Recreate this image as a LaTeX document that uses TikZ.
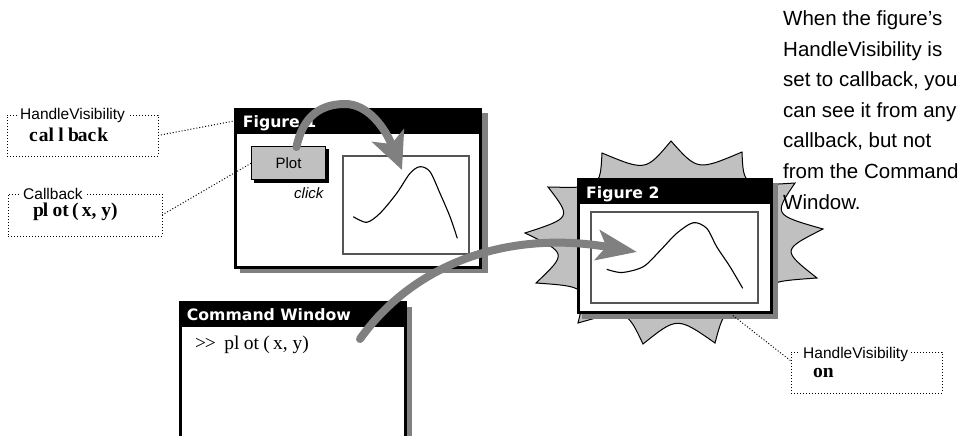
\documentclass[tikz,border=0pt]{standalone}
\usepackage{fontspec}
\setmainfont{Liberation Sans}
\newfontfamily\titlefont{DejaVu Sans}
\newfontfamily\codefont{Liberation Serif}
\usetikzlibrary{arrows.meta,calc}
\definecolor{shadegray}{RGB}{128,128,128}
\definecolor{burstgray}{RGB}{192,192,192}
\definecolor{framegray}{RGB}{85,85,85}
\newcommand\gridch[1]{\makebox[0.5em][l]{#1}}
\tikzset{
  wframe/.style={draw=black, fill=white, line width=3pt, inner sep=0pt, outer sep=0pt, anchor=north west},
  wtitle/.style={fill=black, inner sep=0pt, outer sep=0pt, anchor=north west},
  wtitletext/.style={text=white, font=\titlefont\bfseries\fontsize{15.7}{18}\selectfont, inner sep=0pt, anchor=base west},
  plotarea/.style={draw=framegray, line width=1.2pt, fill=white, inner sep=0pt, outer sep=0pt, anchor=north west},
  curve/.style={line width=1.1pt},
  calloutbox/.style={draw=black, line width=1pt, dash pattern=on 1pt off 2pt, inner sep=0pt, outer sep=0pt, anchor=north west},
  dotline/.style={line width=1pt, dash pattern=on 1pt off 2pt},
  boxlabel/.style={fill=white, inner xsep=3pt, inner ysep=1pt, anchor=base west, font=\fontsize{15.5}{18}\selectfont},
  boxcode/.style={inner sep=0pt, anchor=base west, font=\codefont\bfseries\fontsize{19.5}{20}\selectfont},
  bigarrow/.style={draw=shadegray, line width=8pt, line cap=round},
  burst/.style={fill=burstgray, draw=black, line width=1pt},
}
\begin{document}
\begin{tikzpicture}[x=1pt,y=-1pt]
\useasboundingbox (0,0) rectangle (959,436);
\clip (0,0) rectangle (959,436);

% starburst
\coordinate (C) at (672,240);
\coordinate (s1) at (671,141);
\coordinate (s2) at (742,152);
\coordinate (s3) at (795,183);
\coordinate (s4) at (823,229);
\coordinate (s5) at (817,278);
\coordinate (s6) at (772,315);
\coordinate (s7) at (715,343);
\coordinate (s8) at (643,344);
\coordinate (s9) at (578,323);
\coordinate (s10) at (536,283);
\coordinate (s11) at (525,233);
\coordinate (s12) at (548,187);
\coordinate (s13) at (602,153);
\draw[burst] (s1)
  .. controls ($(s1)!0.5!(s2)!0.26!(C)$) .. (s2)
  .. controls ($(s2)!0.5!(s3)!0.26!(C)$) .. (s3)
  .. controls ($(s3)!0.5!(s4)!0.26!(C)$) .. (s4)
  .. controls ($(s4)!0.5!(s5)!0.26!(C)$) .. (s5)
  .. controls ($(s5)!0.5!(s6)!0.26!(C)$) .. (s6)
  .. controls ($(s6)!0.5!(s7)!0.26!(C)$) .. (s7)
  .. controls ($(s7)!0.5!(s8)!0.26!(C)$) .. (s8)
  .. controls ($(s8)!0.5!(s9)!0.26!(C)$) .. (s9)
  .. controls ($(s9)!0.5!(s10)!0.26!(C)$) .. (s10)
  .. controls ($(s10)!0.5!(s11)!0.26!(C)$) .. (s11)
  .. controls ($(s11)!0.5!(s12)!0.26!(C)$) .. (s12)
  .. controls ($(s12)!0.5!(s13)!0.26!(C)$) .. (s13)
  .. controls ($(s13)!0.5!(s1)!0.26!(C)$) .. (s1) -- cycle;

% Figure 2
\fill[shadegray] (582,183) rectangle (778,319);
\node[wframe, minimum width=193, minimum height=133] (f2) at (578.5,179.5) {};
\node[wtitle, minimum width=196, minimum height=26] (t2) at (577,178) {};
\node[wtitletext] (t2text) at (586,198) {Figure 2};
\node[plotarea, minimum width=167, minimum height=91] (p2) at (591,212) {};
\draw[curve] plot[smooth] coordinates {(606.7,269.3) (622,272.5) (643.3,266.7) (660,250.7) (676.7,233.3) (693.3,222.7) (706.7,228.3) (716.7,246.7) (730,266.7) (742.7,288.3)};

% Figure 1
\fill[shadegray] (240,113) rectangle (488,273);
\node[wframe, minimum width=245, minimum height=158] (f1) at (235.5,109.5) {};
\node[wtitle, minimum width=248, minimum height=26] (t1) at (234,108) {};
\node[wtitletext] (t1text) at (242.7,128) {Figure 1};
\fill (254,149) rectangle (329,183);
\node[fill=burstgray, draw=black, line width=1pt, inner sep=0pt, outer sep=0pt, minimum width=74, minimum height=33, anchor=north west, font=\fontsize{15}{18}\selectfont] (plotbtn) at (251.5,146.5) {Plot};
\node[inner sep=0pt, anchor=base west, font=\itshape\fontsize{15}{18}\selectfont] (click) at (294,198) {click};
\node[plotarea, minimum width=126, minimum height=98] (p1) at (343,156) {};
\draw[curve] plot[smooth] coordinates {(353.3,216.7) (366.7,222.3) (380,213.3) (396.7,193.3) (410,173.3) (420,166.7) (430,171.7) (440,193.3) (450,216.7) (457.3,238.3)};

% Command Window
\fill[shadegray] (184,307) rectangle (412,445);
\node[wframe, minimum width=225, minimum height=136] (cw) at (180.5,302.5) {};
\node[wtitle, minimum width=228, minimum height=26] (tc) at (179,301) {};
\node[wtitletext] (tctext) at (186.7,320) {Command Window};
\node[inner sep=0pt, anchor=base west, font=\codefont\fontsize{19.5}{20}\selectfont] (cmd) at (195,349)
  {\gridch{>}\gridch{>}\gridch{ }\gridch{p}\gridch{l}\gridch{o}\gridch{t}\gridch{(}\gridch{x}\gridch{,}\gridch{y}\gridch{)}};

% callout boxes
\node[calloutbox, minimum width=151, minimum height=41] (hv1) at (7,115) {};
\node[boxlabel] (hv1lab) at (17,119.5) {HandleVisibility};
\node[boxcode] (hv1val) at (29,141.5) {\gridch{c}\gridch{a}\gridch{l}\gridch{l}\gridch{b}\gridch{a}\gridch{c}\gridch{k}};

\node[calloutbox, minimum width=154, minimum height=42] (cb) at (8,194) {};
\node[boxlabel] (cblab) at (20,199) {Callback};
\node[boxcode] (cbval) at (33,216) {\gridch{p}\gridch{l}\gridch{o}\gridch{t}\gridch{(}\gridch{x}\gridch{,}\gridch{y}\gridch{)}};

\node[calloutbox, minimum width=151, minimum height=41] (hv3) at (791,352) {};
\node[boxlabel] (hv3lab) at (800,358) {HandleVisibility};
\node[boxcode] (hv3val) at (813,377) {\gridch{o}\gridch{n}};

% dotted connectors
\draw[dotline] (hv1.east) -- (t1.west);
\draw[dotline] (cb.east) -- (plotbtn.west);
\draw[dotline] ($(f2.south west)!0.8!(f2.south east)+(0,3)$) -- ($(hv3.north west)!0.22!(hv3.south west)$);

% note text
\node[anchor=north west, inner sep=0pt, align=left, font=\fontsize{20.5}{30.6}\selectfont] (note) at (783,10.5)
  {When the figure’s\\HandleVisibility is\\set to callback, you\\can see it from any\\callback, but not\\from the Command\\Window.};

% big arrows
\coordinate (tip1) at (402,170);
\coordinate (a2start) at (360,339);
\coordinate (tip2) at (637,252);
\draw[bigarrow, -{Stealth[length=37pt,width=34pt,inset=9pt]}] ($(plotbtn.north)+(8,0.5)$) .. controls (303,115) and (322,104) .. (345,104) .. controls (368,104) and (385,128) .. (tip1);
\draw[bigarrow, -{Stealth[length=40pt,width=30pt,inset=9pt]}] (a2start) .. controls (415,262) and (510,230) .. (tip2);
\end{tikzpicture}
\end{document}
